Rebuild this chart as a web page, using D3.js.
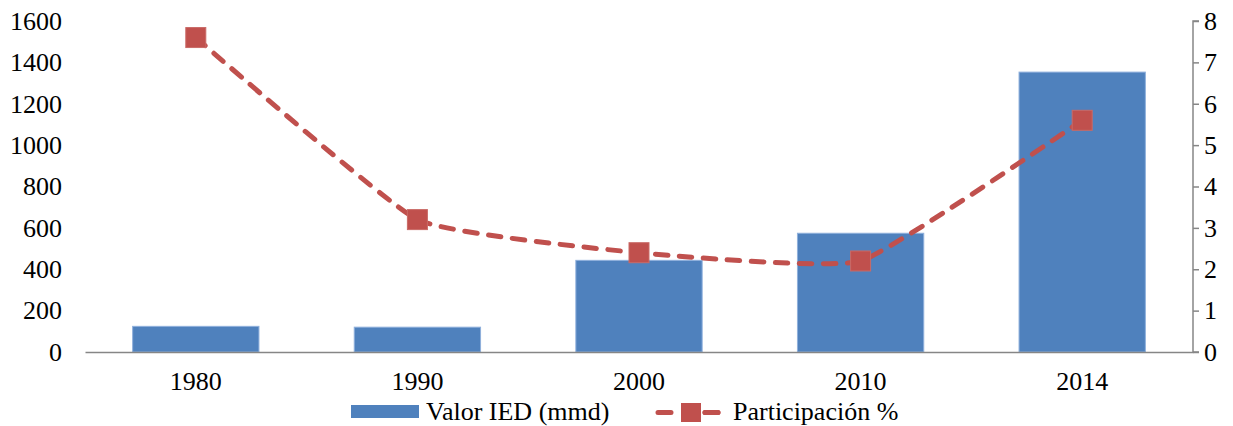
<!DOCTYPE html>
<html>
<head>
<meta charset="utf-8">
<script src="https://cdn.jsdelivr.net/npm/d3@7"></script>
<style>
  html, body { margin: 0; padding: 0; background: #fff; }
  svg { display: block; }
</style>
</head>
<body>
<svg id="chart" width="1233" height="426" font-family="Liberation Serif"></svg>
<script>
// Years on the category axis
const years = ["1980", "1990", "2000", "2010", "2014"];
// Foreign direct investment value, thousands of millions of dollars (left axis)
const valorIED = [124, 120, 443, 574, 1353];
// Share in percent (right axis)
const participacion = [7.6, 3.2, 2.4, 2.2, 5.6];
// Axis tick values
const leftTicks = [0, 200, 400, 600, 800, 1000, 1200, 1400, 1600];
const rightTicks = [0, 1, 2, 3, 4, 5, 6, 7, 8];
// Legend entries
const legendLabels = ["Valor IED (mmd)", "Participación %"];

const FONT = "Liberation Serif";
const FS = 26;
const barColor = "#4F81BD";
const lineColor = "#C0504D";
const axisColor = "#868686";

const svg = d3.select("#chart");
const plot = { left: 85, right: 1193, top: 21, bottom: 352 };

const x = d3.scaleBand().domain(years).range([plot.left, plot.right]).paddingInner(0.43).paddingOuter(0.215);
const yL = d3.scaleLinear().domain([0, 1600]).range([plot.bottom, plot.top]);
const yR = d3.scaleLinear().domain([0, 8]).range([plot.bottom, plot.top]);
const xc = d => x(d) + x.bandwidth() / 2;

// Bars
svg.append("g").selectAll("rect").data(years).join("rect")
  .attr("x", d => x(d))
  .attr("width", x.bandwidth())
  .attr("y", (d, i) => yL(valorIED[i]))
  .attr("height", (d, i) => yL(0) - yL(valorIED[i]))
  .attr("fill", barColor)
  .attr("stroke", "#8fb0dc")
  .attr("stroke-width", 1);

function styleText(g) {
  g.attr("font-family", FONT).attr("font-size", FS);
  g.selectAll("text").attr("font-family", FONT).attr("font-size", FS).attr("fill", "#000");
}

// Left axis: labels only
const leftAxis = d3.axisLeft(yL).tickValues(leftTicks).tickFormat(d3.format("d")).tickSize(0).tickPadding(0);
const gL = svg.append("g").attr("transform", `translate(${plot.left - 23},0)`).call(leftAxis);
gL.select(".domain").remove();
styleText(gL);

// Right axis
const rightAxis = d3.axisRight(yR).tickValues(rightTicks).tickFormat(d3.format("d")).tickSize(6).tickPadding(5);
const gR = svg.append("g").attr("transform", `translate(${plot.right},0)`).call(rightAxis);
gR.select(".domain").attr("stroke", axisColor).attr("stroke-width", 1.5).attr("d", `M6,${plot.top}H0V${plot.bottom}H6`);
gR.selectAll(".tick line").attr("stroke", axisColor).attr("stroke-width", 1.5);
styleText(gR);

// Category axis
const bottomAxis = d3.axisBottom(x).tickSize(0).tickPadding(20);
const gB = svg.append("g").attr("transform", `translate(0,${plot.bottom})`).call(bottomAxis);
gB.select(".domain").attr("stroke", axisColor).attr("stroke-width", 1.5);
styleText(gB);

// Share line, lightly smoothed and dashed
const line = d3.line()
  .x((d, i) => xc(years[i]))
  .y(d => yR(d))
  .curve(d3.curveCardinal.tension(0.6));
svg.append("path")
  .datum(participacion)
  .attr("d", line)
  .attr("fill", "none")
  .attr("stroke", lineColor)
  .attr("stroke-width", 5)
  .attr("stroke-linecap", "round")
  .attr("stroke-dasharray", "12.5 11.5");

// Square markers
const ms = 20;
svg.append("g").selectAll("rect").data(participacion).join("rect")
  .attr("x", (d, i) => xc(years[i]) - ms / 2)
  .attr("y", d => yR(d) - ms / 2)
  .attr("width", ms).attr("height", ms)
  .attr("fill", lineColor)
  .attr("stroke", "#c96a67").attr("stroke-width", 1);

// Legend
const lg = svg.append("g").attr("font-family", FONT).attr("font-size", FS);
lg.append("rect").attr("x", 351).attr("y", 405).attr("width", 68).attr("height", 13).attr("fill", barColor);
lg.append("text").attr("x", 426).attr("y", 420).attr("font-family", FONT).attr("font-size", FS).text(legendLabels[0]);
lg.append("line").attr("x1", 658).attr("x2", 718).attr("y1", 412.5).attr("y2", 412.5)
  .attr("stroke", lineColor).attr("stroke-width", 5).attr("stroke-linecap", "round")
  .attr("stroke-dasharray", "13 34");
lg.append("line").attr("x1", 705).attr("x2", 718).attr("y1", 412.5).attr("y2", 412.5)
  .attr("stroke", lineColor).attr("stroke-width", 5).attr("stroke-linecap", "round");
lg.append("rect").attr("x", 681).attr("y", 403).attr("width", 20).attr("height", 19).attr("fill", lineColor);
lg.append("text").attr("x", 733).attr("y", 420).attr("font-family", FONT).attr("font-size", FS).text(legendLabels[1]);
</script>
</body>
</html>
